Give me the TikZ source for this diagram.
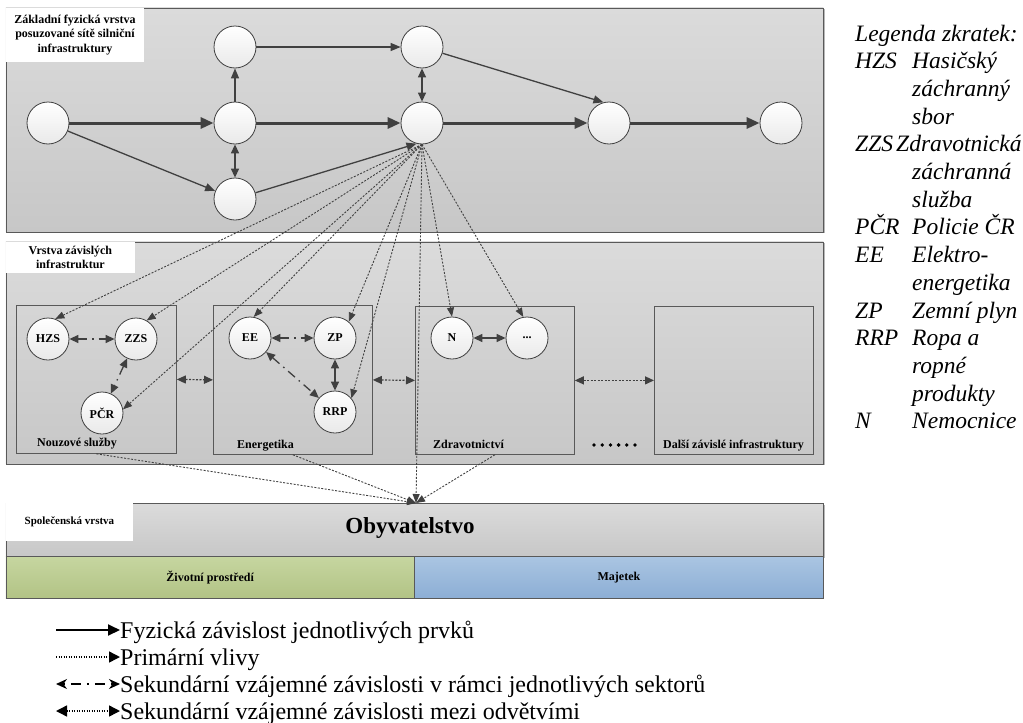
\documentclass[tikz,border=0pt]{standalone}
\usepackage{fontspec}
\setmainfont{Liberation Serif}
\usetikzlibrary{arrows.meta,shadows}

\definecolor{edgec}{HTML}{404040}
\definecolor{framec}{HTML}{595959}
\definecolor{tiertop}{HTML}{DBDBDB}
\definecolor{tierbot}{HTML}{C7C7C7}
\definecolor{balltop}{HTML}{FFFFFF}
\definecolor{ballbot}{HTML}{E9E9E9}
\definecolor{greentop}{HTML}{C6D6A0}
\definecolor{greenbot}{HTML}{B2C385}
\definecolor{bluetop}{HTML}{AAC5E2}
\definecolor{bluebot}{HTML}{8CAED5}
\definecolor{shadowc}{HTML}{B8B8B8}

\tikzset{
  tier/.style={draw=framec, line width=0.9pt, top color=tiertop, bottom color=tierbot,
    inner sep=0pt, anchor=north west,
    general shadow={fill=shadowc, shadow xshift=1.5pt, shadow yshift=-1.5pt}},
  tagbox/.style={fill=white, inner sep=0pt, anchor=north west, align=center,
    font=\bfseries\fontsize{12}{14.5}\selectfont},
  sectorbox/.style={draw=framec, line width=0.8pt, inner sep=0pt, anchor=north west},
  ball/.style={circle, draw=edgec, line width=0.8pt, top color=balltop, bottom color=ballbot,
    minimum size=42pt, inner sep=0pt, font=\bfseries\fontsize{12}{14}\selectfont},
  physarrow/.style={draw=edgec, line width=3pt, -{Triangle[length=13pt,width=11pt]}},
  thinarrow/.style={draw=edgec, line width=1.3pt, -{Triangle[length=10pt,width=8pt]}},
  twoway/.style={draw=edgec, line width=1.3pt,
    {Triangle[length=9pt,width=8pt]}-{Triangle[length=9pt,width=8pt]}},
  primflow/.style={draw=edgec, line width=0.9pt, dash pattern=on 2pt off 1.5pt,
    -{Triangle[length=9pt,width=7pt]}},
  secflow/.style={draw=edgec, line width=1.3pt, dash pattern=on 9pt off 5pt on 1.5pt off 5pt,
    {Triangle[length=9pt,width=8pt]}-{Triangle[length=9pt,width=8pt]}},
  crossflow/.style={draw=edgec, line width=1.2pt, dash pattern=on 2pt off 1.5pt,
    {Triangle[length=9pt,width=8pt]}-{Triangle[length=9pt,width=8pt]}},
  sectorname/.style={anchor=base west, inner sep=0pt, font=\bfseries\fontsize{12}{14}\selectfont},
  legtext/.style={anchor=base west, inner sep=0pt, font=\fontsize{24}{27}\selectfont},
  abbr/.style={anchor=base west, inner sep=0pt, font=\itshape\fontsize{23.5}{27}\selectfont},
}

\begin{document}
\begin{tikzpicture}[x=1pt,y=-1pt]
\useasboundingbox (0,0) rectangle (1023,723);

% ---------------- physical road network layer
\node[tier, minimum width=817.5pt, minimum height=224pt] (roadlayer) at (5.5,7.5) {};
\node[tagbox, minimum width=138.5pt, minimum height=54.5pt] (roadtag) at (5.5,7.5)
  {Základní fyzická vrstva\\posuzované sítě silniční\\infrastruktury};

\node[ball] (a) at (48,123) {};
\node[ball] (b) at (235,123) {};
\node[ball] (c) at (235,47) {};
\node[ball] (d) at (235,199) {};
\node[ball] (e) at (422,47) {};
\node[ball] (f) at (422,123) {};
\node[ball] (g) at (609,123) {};
\node[ball] (h) at (781,123) {};

\draw[physarrow] (a) -- (b);
\draw[physarrow] (b) -- (f);
\draw[physarrow] (f) -- (g);
\draw[physarrow] (g) -- (h);
\draw[thinarrow] (a) -- (d);
\draw[thinarrow] (b) -- (c);
\draw[twoway] (b) -- (d);
\draw[thinarrow] (c) -- (e);
\draw[twoway] (e) -- (f);
\draw[thinarrow] (e) -- (g.105);
\draw[thinarrow] (d) -- (f.255);

% ---------------- dependent infrastructures layer
\node[tier, minimum width=817.5pt, minimum height=222pt] (deplayer) at (5.5,241.5) {};
\node[tagbox, minimum width=129.5pt, minimum height=31.5pt] (deptag) at (5.5,241.5)
  {Vrstva závislých\\infrastruktur};

\node[sectorbox, minimum width=160pt, minimum height=148pt] (ns) at (16,305) {};
\node[sectorbox, minimum width=159pt, minimum height=149pt] (en) at (213,305) {};
\node[sectorbox, minimum width=159pt, minimum height=148pt] (zd) at (415,306) {};
\node[sectorbox, minimum width=159pt, minimum height=148pt] (da) at (654,306) {};

\node[sectorname] (nsname) at (37,446) {Nouzové služby};
\node[sectorname] (enname) at (237,448) {Energetika};
\node[sectorname] (zdname) at (433,448) {Zdravotnictví};
\node[sectorname] (daname) at (663,448) {Další závislé infrastruktury};
\foreach \k in {0,...,5}
  \fill[black] (594+8.2*\k,445) circle (1.9pt);

\node[ball] (HZS) at (48,339) {HZS};
\node[ball] (ZZS) at (136,339) {ZZS};
\node[ball] (PCR) at (102,413) {PČR};
\node[ball] (EE) at (250,338) {EE};
\node[ball] (ZP) at (335,338) {ZP};
\node[ball] (RRP) at (335,412) {RRP};
\node[ball] (N) at (452,338) {N};
\node[ball] (more) at (527,338) {...};

% secondary links inside the sectors
\draw[secflow] (HZS) -- (ZZS);
\draw[secflow] (ZZS) -- (PCR);
\draw[secflow] (EE) -- (ZP);
\draw[secflow] (EE) -- (RRP);
\draw[twoway] (ZP) -- (RRP);
\draw[twoway] (N) -- (more);

% links between the sectors
\draw[crossflow] (ns.east) -- (en.west);
\draw[crossflow] (en.east) -- (zd.west);
\draw[crossflow] (zd.east) -- (da.west);

% ---------------- society layer
\node[tier, minimum width=817.5pt, minimum height=53pt] (poplayer) at (5.5,503) {};
\node[tagbox, minimum width=127.5pt, minimum height=38pt] (poptag) at (5.5,503)
  {\fontsize{11}{13}\selectfont Společenská vrstva};
\node[font=\bfseries\fontsize{23}{27}\selectfont, inner sep=0pt] (pop) at (410,528) {Obyvatelstvo};
\node[draw=framec, line width=0.9pt, top color=greentop, bottom color=greenbot, inner sep=0pt,
  anchor=north west, minimum width=408.5pt, minimum height=42pt,
  font=\bfseries\fontsize{12}{14}\selectfont] (env) at (5.5,556) {Životní prostředí};
\node[draw=framec, line width=0.9pt, top color=bluetop, bottom color=bluebot, inner sep=0pt,
  anchor=north west, minimum width=409pt, minimum height=42pt,
  font=\bfseries\fontsize{12}{14}\selectfont] (prop) at (414,556) {Majetek};

% ---------------- primary influences
\coordinate (sink) at (416,503);
\draw[primflow] (f.south) -- (HZS.70);
\draw[primflow] (f.south) -- (ZZS.60);
\draw[primflow] (f.south) -- (PCR.10);
\draw[primflow] (f.south) -- (EE.80);
\draw[primflow] (f.south) -- (ZP.50);
\draw[primflow] (f.south) -- (RRP.40);
\draw[primflow] (f.south) -- (N.north);
\draw[primflow] (f.south) -- (more.100);
\draw[primflow] (f.south) -- (sink);
\draw[primflow] (ns.south) -- (sink);
\draw[primflow] (en.south) -- (sink);
\draw[primflow] (zd.south) -- (sink);

% ---------------- line legend
\node[legtext] (t1) at (120,638) {Fyzická závislost jednotlivých prvků};
\node[legtext] (t2) at (120,665) {Primární vlivy};
\node[legtext] (t3) at (120,692) {Sekundární vzájemné závislosti v rámci jednotlivých sektorů};
\node[legtext] (t4) at (120,719) {Sekundární vzájemné závislosti mezi odvětvími};
\coordinate (s1) at (56,630);
\coordinate (s2) at (56,657);
\coordinate (s3) at (56,684);
\coordinate (s4) at (56,711);
\draw[black, line width=2pt, -{Triangle[length=12pt,width=11pt]}] (s1) -- (s1 -| t1.west);
\draw[black, line width=1.4pt, dash pattern=on 1.3pt off 1.2pt, -{Triangle[length=11pt,width=11pt]}] (s2) -- (s2 -| t2.west);
\draw[black, line width=1.4pt, dash pattern=on 2pt off 6pt on 10pt off 6pt,
  {Stealth[length=11pt,width=10pt]}-{Stealth[length=11pt,width=10pt]}] (s3) -- (s3 -| t3.west);
\draw[black, line width=1.4pt, dash pattern=on 1.3pt off 1.2pt,
  {Triangle[length=11pt,width=11pt]}-{Triangle[length=11pt,width=11pt]}] (s4) -- (s4 -| t4.west);

% ---------------- abbreviations
\node[abbr] (lg) at (855,41) {Legenda zkratek:};
\node[abbr] (k1) at (855,68.7) {HZS};
\node[abbr] (v1) at (912,68.7) {Hasičský};
\node[abbr] (v1b) at (912,96.4) {záchranný};
\node[abbr] (v1c) at (912,124.1) {sbor};
\node[abbr] (k2) at (855,151.8) {ZZS};
\node[abbr] (v2) at (896,151.8) {Zdravotnická};
\node[abbr] (v2b) at (912,179.5) {záchranná};
\node[abbr] (v2c) at (912,207.2) {služba};
\node[abbr] (k3) at (855,234.9) {PČR};
\node[abbr] (v3) at (912,234.9) {Policie ČR};
\node[abbr] (k4) at (855,262.6) {EE};
\node[abbr] (v4) at (912,262.6) {Elektro-};
\node[abbr] (v4b) at (912,290.3) {energetika};
\node[abbr] (k5) at (855,318) {ZP};
\node[abbr] (v5) at (912,318) {Zemní plyn};
\node[abbr] (k6) at (855,345.7) {RRP};
\node[abbr] (v6) at (912,345.7) {Ropa a};
\node[abbr] (v6b) at (912,373.4) {ropné};
\node[abbr] (v6c) at (912,401.1) {produkty};
\node[abbr] (k7) at (855,428.8) {N};
\node[abbr] (v7) at (912,428.8) {Nemocnice};
\end{tikzpicture}
\end{document}
